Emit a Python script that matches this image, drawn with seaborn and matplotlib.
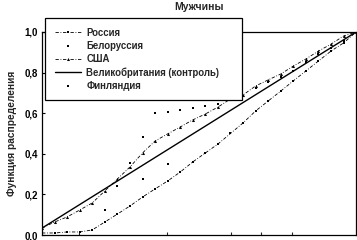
import numpy as np
import pandas as pd
import seaborn as sns
import matplotlib.pyplot as plt
from matplotlib.ticker import FixedLocator, FuncFormatter

# Data
x_grid = [0.00, 0.04, 0.08, 0.12, 0.16, 0.20, 0.24, 0.28, 0.32, 0.36, 0.40, 0.44, 0.48,
          0.52, 0.56, 0.60, 0.64, 0.68, 0.72, 0.76, 0.80, 0.84, 0.88, 0.92, 0.96, 1.00]

russia_y = [0.010, 0.010, 0.015, 0.015, 0.025, 0.064, 0.103, 0.143, 0.187, 0.227, 0.266, 0.310, 0.360,
            0.404, 0.448, 0.500, 0.552, 0.611, 0.660, 0.709, 0.759, 0.808, 0.857, 0.906, 0.946, 1.000]

usa_y = [0.034, 0.064, 0.089, 0.123, 0.158, 0.217, 0.276, 0.335, 0.404, 0.463, 0.498, 0.532, 0.567,
         0.596, 0.630, 0.670, 0.690, 0.734, 0.764, 0.793, 0.832, 0.867, 0.906, 0.940, 0.980, 1.000]

belarus_x = [0.24, 0.28, 0.32, 0.36, 0.40, 0.44, 0.48, 0.52, 0.56, 0.60,
             0.68, 0.72, 0.76, 0.80, 0.84, 0.88, 0.92, 0.96, 1.00]
belarus_y = [0.240, 0.355, 0.483, 0.600, 0.606, 0.616, 0.626, 0.635, 0.645, 0.670,
             0.723, 0.754, 0.780, 0.808, 0.852, 0.892, 0.920, 0.956, 1.000]

uk_x = [0.0, 1.0]
uk_y = [0.034, 1.000]

finland_x = [0.20, 0.32, 0.40]
finland_y = [0.123, 0.276, 0.350]

x_ticks = [0.118, 0.398, 0.602, 0.697, 0.796]
y_ticks = [0.0, 0.2, 0.4, 0.6, 0.8, 1.0]

sns.set_theme(style="ticks")
plt.rcParams.update({
    'font.family': ['Liberation Sans', 'DejaVu Sans'],
    'font.weight': 'bold',
    'axes.linewidth': 0.9,
    'axes.edgecolor': 'black',
    'xtick.direction': 'in',
    'ytick.direction': 'in',
    'xtick.major.size': 2.5,
    'ytick.major.size': 2.5,
    'xtick.major.width': 0.8,
    'ytick.major.width': 0.8,
})

fig = plt.figure(figsize=(3.57, 2.40), dpi=100)
ax = fig.add_axes([0.1176, 0.0208, 0.880, 0.846])

dashdot = (0, (4, 2, 1, 2))

sns.lineplot(x=x_grid, y=russia_y, ax=ax, color='black', linestyle=dashdot,
             linewidth=0.6, marker='s', markersize=1.8, markeredgewidth=0,
             label='Россия')
sns.scatterplot(x=belarus_x, y=belarus_y, ax=ax, color='black', marker='s',
                s=3, linewidth=0, label='Белоруссия')
sns.lineplot(x=x_grid, y=usa_y, ax=ax, color='black', linestyle=dashdot,
             linewidth=0.6, marker='^', markersize=2.2, markeredgewidth=0,
             label='США')
sns.lineplot(x=uk_x, y=uk_y, ax=ax, color='black', linewidth=1.0,
             label='Великобритания (контроль)')
sns.scatterplot(x=finland_x, y=finland_y, ax=ax, color='black', marker='s',
                s=1.0, linewidth=0, label='Финляндия')

ax.set_xlim(0, 1)
ax.set_ylim(0, 1)
ax.xaxis.set_major_locator(FixedLocator(x_ticks))
ax.tick_params(axis='x', labelbottom=False)
ax.yaxis.set_major_locator(FixedLocator(y_ticks))
ax.yaxis.set_major_formatter(FuncFormatter(lambda v, p: f"{v:.1f}".replace('.', ',')))
ax.tick_params(axis='y', labelsize=7, pad=3, colors='black')

ax.set_xlabel('')
ax.set_ylabel('Функция распределения', fontsize=7.3, fontweight='bold', labelpad=5)
ax.set_title('Мужчины', fontsize=7.5, fontweight='bold', pad=16)

leg = ax.legend(loc='upper left', bbox_to_anchor=(0.126, 0.925, 0.552, 0),
                bbox_transform=fig.transFigure, mode='expand', borderaxespad=0,
                frameon=True, fancybox=False, framealpha=1, edgecolor='black',
                handlelength=2.8, handletextpad=0.5, labelspacing=0.33,
                borderpad=1.0, prop={'weight': 'bold', 'size': 6.9})
leg.get_frame().set_linewidth(0.9)
leg.set_zorder(5)

fig.savefig('out.png', dpi=100)
